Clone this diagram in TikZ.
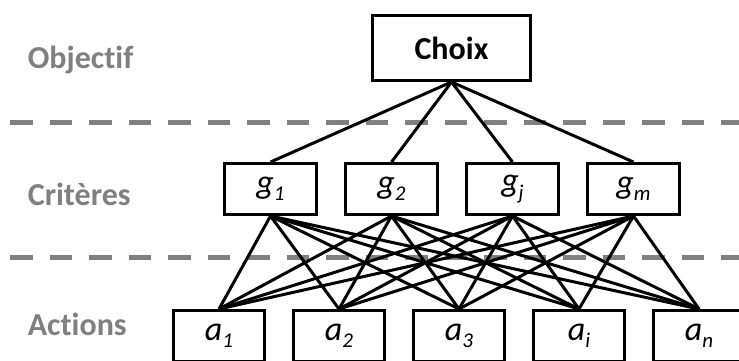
\documentclass[tikz,border=0pt]{standalone}
\usepackage{fontspec}
\setmainfont{Carlito}[Ligatures=NoCommon]
\usetikzlibrary{positioning}
\definecolor{levelgray}{HTML}{808080}
\newcommand{\idx}[2]{\textit{#1}\raisebox{-0.22em}{\fontsize{21}{24}\selectfont\itshape #2}}

\begin{document}
\begin{tikzpicture}[x=1pt,y=-1pt,line width=3pt,node distance=121pt,
                    main node/.style={rectangle,draw,inner sep=0pt,font=\fontsize{34}{40}\selectfont},
                    crit node/.style={main node,minimum width=92pt,minimum height=51pt},
                    act node/.style={main node,node distance=120pt,minimum width=91pt,minimum height=51pt},
                    level label/.style={anchor=base west,text=levelgray,font=\fontsize{32}{38}\selectfont\bfseries},
                    level line/.style={draw=levelgray,line width=5pt,dash pattern=on 22.5pt off 17pt}]

  \clip (0,0) rectangle (739,360);

  % levels
  \node[level label] (obj) at (23,68) {Objectif};
  \node[level label] (crit) at (23,205) {Critères};
  \node[level label] (act) at (23,335) {Actions};
  \draw[level line] (10,122) -- (739,122);
  \draw[level line] (10,257) -- (739,257);

  \node[main node,minimum width=158pt,minimum height=65pt,font=\fontsize{32}{38}\selectfont\bfseries] (choix) at (451.5,48) {Choix};

  \node[crit node] (g1) at (270.5,189) {\idx{g}{1}};
  \node[crit node] (g2) [right of=g1] {\idx{g}{2}};
  \node[crit node] (gj) [right of=g2] {\idx{g}{j}};
  \node[crit node] (gm) [right of=gj] {\idx{g}{m}};

  \node[act node] (a1) at (219,336) {\idx{a}{1}};
  \node[act node] (a2) [right of=a1] {\idx{a}{2}};
  \node[act node] (a3) [right of=a2] {\idx{a}{3}};
  \node[act node] (ai) [right of=a3] {\idx{a}{i}};
  \node[act node] (an) [right of=ai] {\idx{a}{n}};

  \path (choix.south) edge (g1.north) edge (g2.north) edge (gj.north) edge (gm.north);
  \path (g1.south) edge (a1.north) edge (a2.north) edge (a3.north) edge (ai.north) edge (an.north)
        (g2.south) edge (a1.north) edge (a2.north) edge (a3.north) edge (ai.north) edge (an.north)
        (gj.south) edge (a1.north) edge (a2.north) edge (a3.north) edge (ai.north) edge (an.north)
        (gm.south) edge (a1.north) edge (a2.north) edge (a3.north) edge (ai.north) edge (an.north);
\end{tikzpicture}
\end{document}
